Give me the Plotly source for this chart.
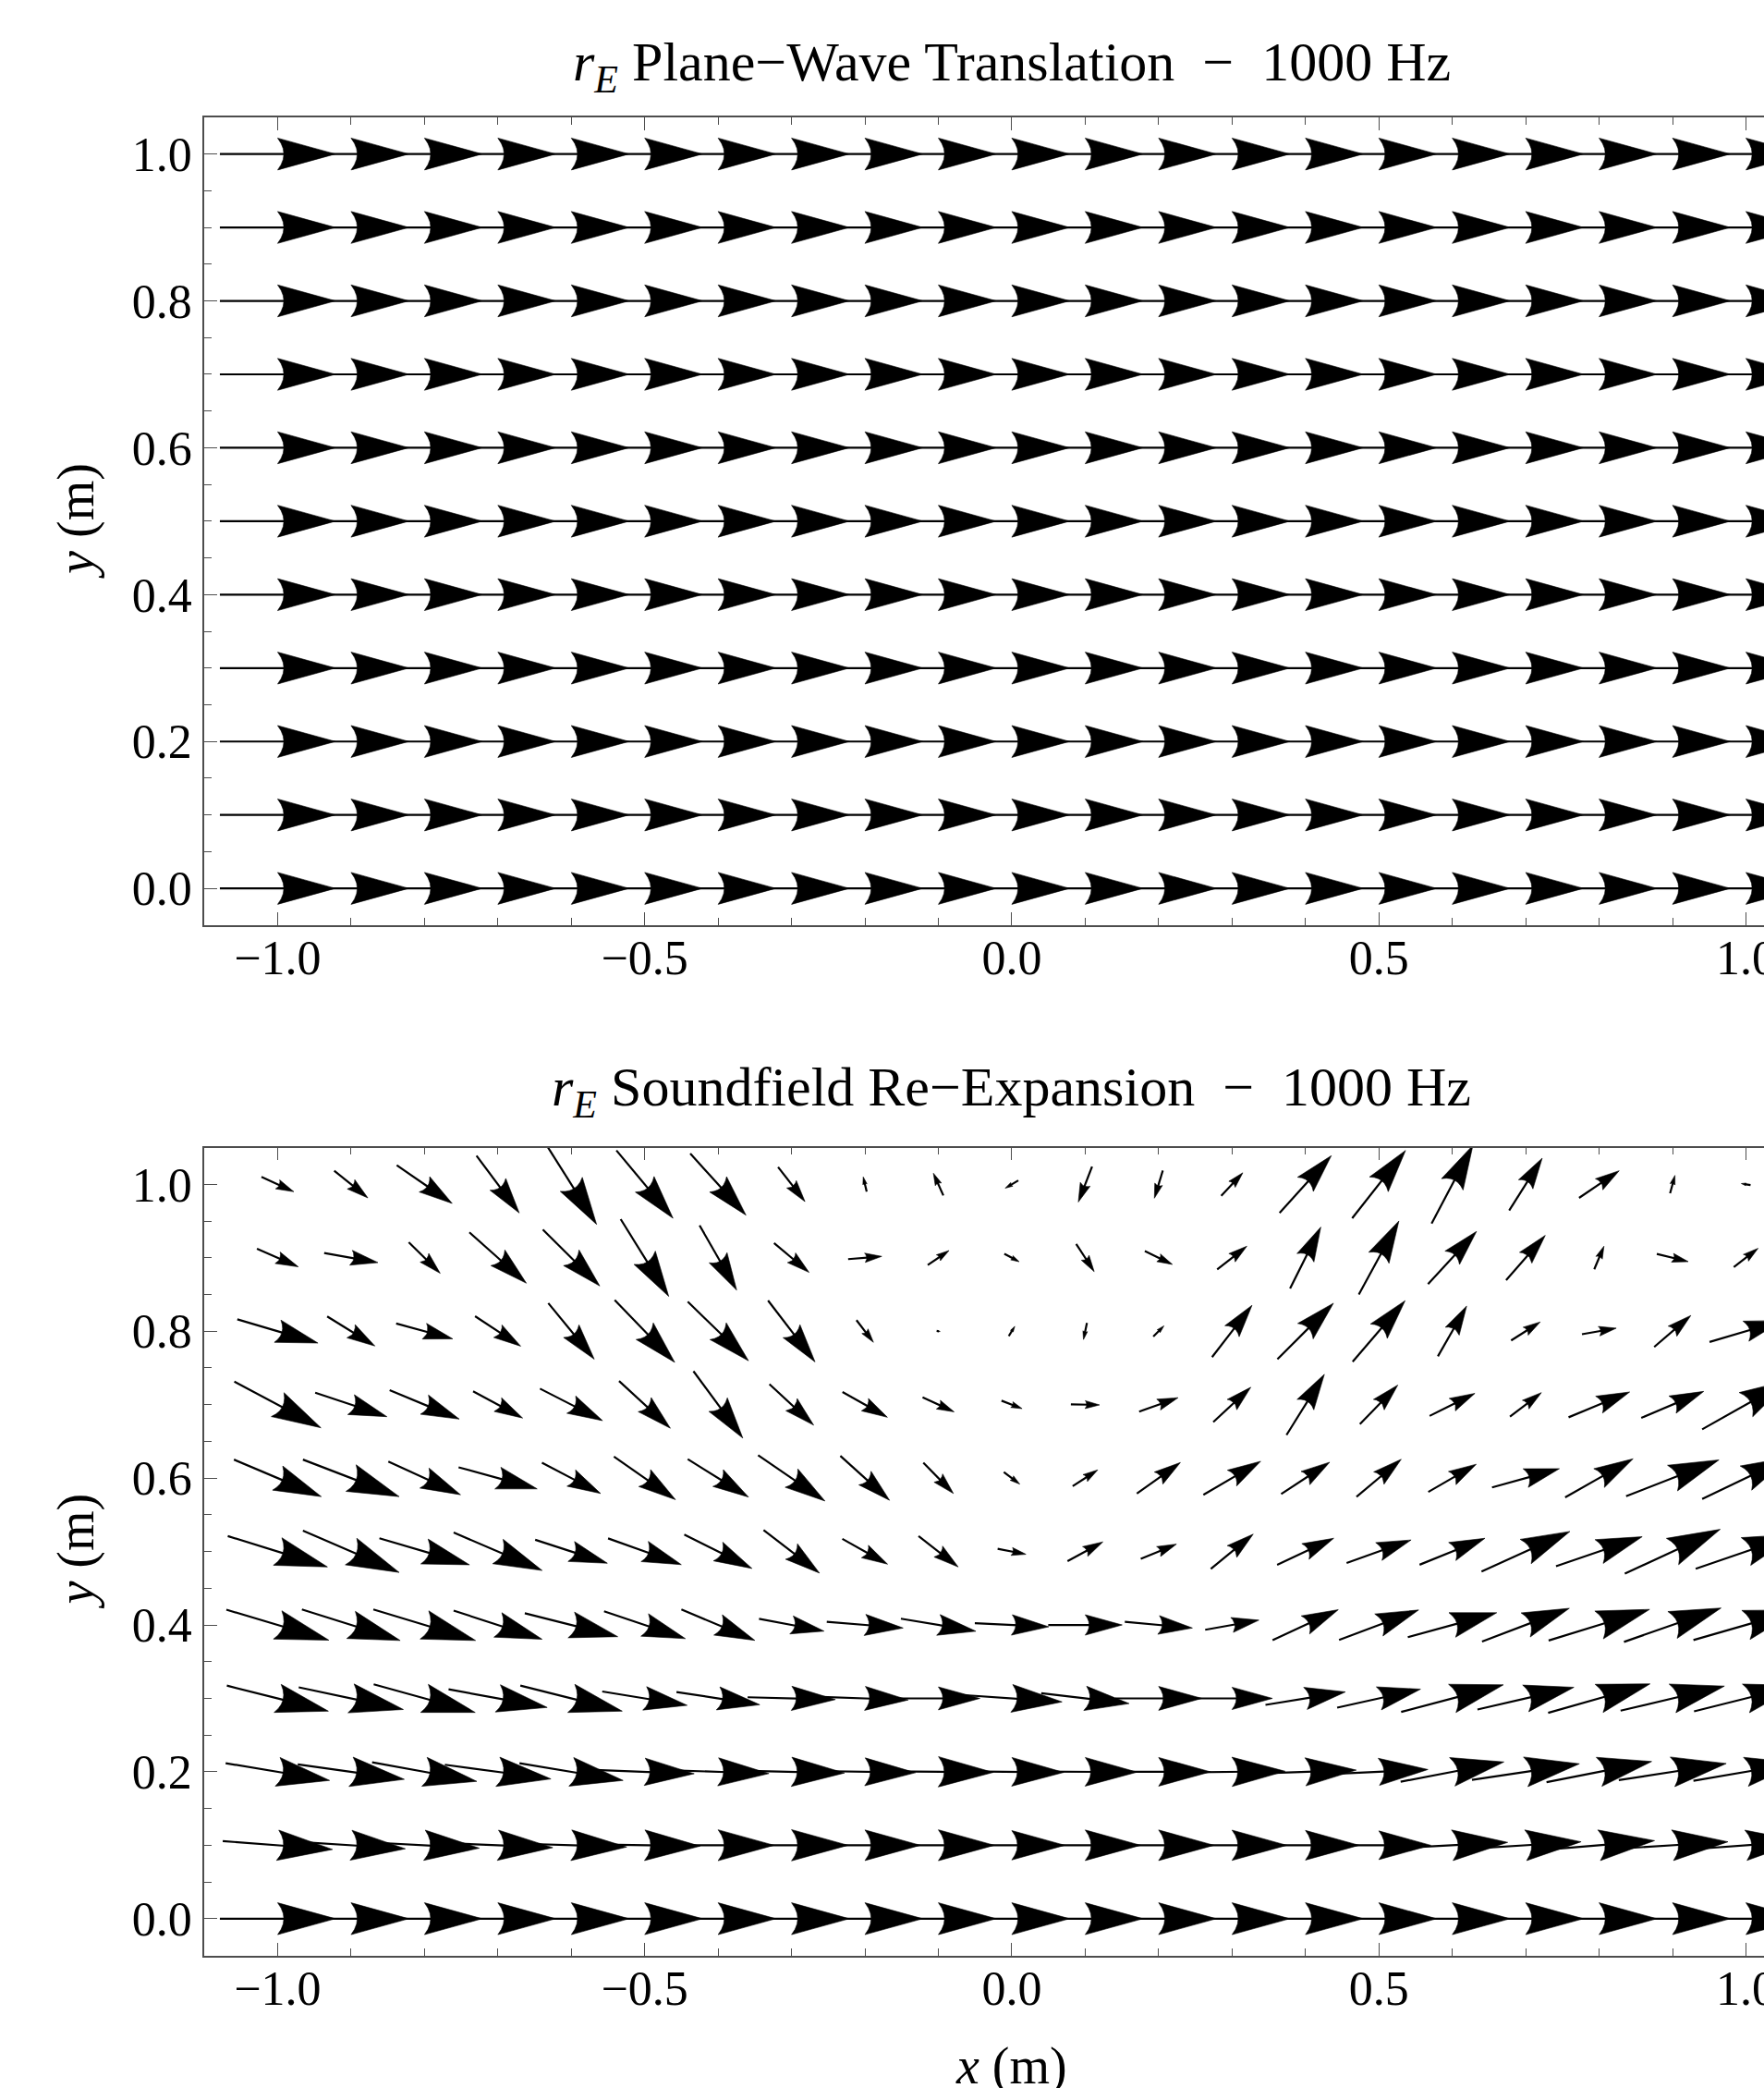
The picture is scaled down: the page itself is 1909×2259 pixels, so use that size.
import math
import plotly.graph_objects as go

# ---------------- data ----------------
x_vals = [-1.0, -0.9, -0.8, -0.7, -0.6, -0.5, -0.4, -0.3, -0.2, -0.1, 0.0,
          0.1, 0.2, 0.3, 0.4, 0.5, 0.6, 0.7, 0.8, 0.9, 1.0]
y_vals = [1.0, 0.9, 0.8, 0.7, 0.6, 0.5, 0.4, 0.3, 0.2, 0.1, 0.0]

# Top panel: plane-wave translation (uniform field)
U_top = [
    [1.0, 1.0, 1.0, 1.0, 1.0, 1.0, 1.0, 1.0, 1.0, 1.0, 1.0, 1.0, 1.0, 1.0, 1.0, 1.0, 1.0, 1.0, 1.0, 1.0, 1.0],
    [1.0, 1.0, 1.0, 1.0, 1.0, 1.0, 1.0, 1.0, 1.0, 1.0, 1.0, 1.0, 1.0, 1.0, 1.0, 1.0, 1.0, 1.0, 1.0, 1.0, 1.0],
    [1.0, 1.0, 1.0, 1.0, 1.0, 1.0, 1.0, 1.0, 1.0, 1.0, 1.0, 1.0, 1.0, 1.0, 1.0, 1.0, 1.0, 1.0, 1.0, 1.0, 1.0],
    [1.0, 1.0, 1.0, 1.0, 1.0, 1.0, 1.0, 1.0, 1.0, 1.0, 1.0, 1.0, 1.0, 1.0, 1.0, 1.0, 1.0, 1.0, 1.0, 1.0, 1.0],
    [1.0, 1.0, 1.0, 1.0, 1.0, 1.0, 1.0, 1.0, 1.0, 1.0, 1.0, 1.0, 1.0, 1.0, 1.0, 1.0, 1.0, 1.0, 1.0, 1.0, 1.0],
    [1.0, 1.0, 1.0, 1.0, 1.0, 1.0, 1.0, 1.0, 1.0, 1.0, 1.0, 1.0, 1.0, 1.0, 1.0, 1.0, 1.0, 1.0, 1.0, 1.0, 1.0],
    [1.0, 1.0, 1.0, 1.0, 1.0, 1.0, 1.0, 1.0, 1.0, 1.0, 1.0, 1.0, 1.0, 1.0, 1.0, 1.0, 1.0, 1.0, 1.0, 1.0, 1.0],
    [1.0, 1.0, 1.0, 1.0, 1.0, 1.0, 1.0, 1.0, 1.0, 1.0, 1.0, 1.0, 1.0, 1.0, 1.0, 1.0, 1.0, 1.0, 1.0, 1.0, 1.0],
    [1.0, 1.0, 1.0, 1.0, 1.0, 1.0, 1.0, 1.0, 1.0, 1.0, 1.0, 1.0, 1.0, 1.0, 1.0, 1.0, 1.0, 1.0, 1.0, 1.0, 1.0],
    [1.0, 1.0, 1.0, 1.0, 1.0, 1.0, 1.0, 1.0, 1.0, 1.0, 1.0, 1.0, 1.0, 1.0, 1.0, 1.0, 1.0, 1.0, 1.0, 1.0, 1.0],
    [1.0, 1.0, 1.0, 1.0, 1.0, 1.0, 1.0, 1.0, 1.0, 1.0, 1.0, 1.0, 1.0, 1.0, 1.0, 1.0, 1.0, 1.0, 1.0, 1.0, 1.0],
]
V_top = [
    [0.0, 0.0, 0.0, 0.0, 0.0, 0.0, 0.0, 0.0, 0.0, 0.0, 0.0, 0.0, 0.0, 0.0, 0.0, 0.0, 0.0, 0.0, 0.0, 0.0, 0.0],
    [0.0, 0.0, 0.0, 0.0, 0.0, 0.0, 0.0, 0.0, 0.0, 0.0, 0.0, 0.0, 0.0, 0.0, 0.0, 0.0, 0.0, 0.0, 0.0, 0.0, 0.0],
    [0.0, 0.0, 0.0, 0.0, 0.0, 0.0, 0.0, 0.0, 0.0, 0.0, 0.0, 0.0, 0.0, 0.0, 0.0, 0.0, 0.0, 0.0, 0.0, 0.0, 0.0],
    [0.0, 0.0, 0.0, 0.0, 0.0, 0.0, 0.0, 0.0, 0.0, 0.0, 0.0, 0.0, 0.0, 0.0, 0.0, 0.0, 0.0, 0.0, 0.0, 0.0, 0.0],
    [0.0, 0.0, 0.0, 0.0, 0.0, 0.0, 0.0, 0.0, 0.0, 0.0, 0.0, 0.0, 0.0, 0.0, 0.0, 0.0, 0.0, 0.0, 0.0, 0.0, 0.0],
    [0.0, 0.0, 0.0, 0.0, 0.0, 0.0, 0.0, 0.0, 0.0, 0.0, 0.0, 0.0, 0.0, 0.0, 0.0, 0.0, 0.0, 0.0, 0.0, 0.0, 0.0],
    [0.0, 0.0, 0.0, 0.0, 0.0, 0.0, 0.0, 0.0, 0.0, 0.0, 0.0, 0.0, 0.0, 0.0, 0.0, 0.0, 0.0, 0.0, 0.0, 0.0, 0.0],
    [0.0, 0.0, 0.0, 0.0, 0.0, 0.0, 0.0, 0.0, 0.0, 0.0, 0.0, 0.0, 0.0, 0.0, 0.0, 0.0, 0.0, 0.0, 0.0, 0.0, 0.0],
    [0.0, 0.0, 0.0, 0.0, 0.0, 0.0, 0.0, 0.0, 0.0, 0.0, 0.0, 0.0, 0.0, 0.0, 0.0, 0.0, 0.0, 0.0, 0.0, 0.0, 0.0],
    [0.0, 0.0, 0.0, 0.0, 0.0, 0.0, 0.0, 0.0, 0.0, 0.0, 0.0, 0.0, 0.0, 0.0, 0.0, 0.0, 0.0, 0.0, 0.0, 0.0, 0.0],
    [0.0, 0.0, 0.0, 0.0, 0.0, 0.0, 0.0, 0.0, 0.0, 0.0, 0.0, 0.0, 0.0, 0.0, 0.0, 0.0, 0.0, 0.0, 0.0, 0.0, 0.0],
]

# Bottom panel: soundfield re-expansion (rows: y = 1.0 ... 0.0, cols: x = -1.0 ... 1.0)
U_bot = [
    [0.280, 0.291, 0.480, 0.370, 0.438, 0.490, 0.482, 0.233, -0.030, -0.086, -0.113, -0.119, -0.073, 0.187, 0.448, 0.462, 0.358, 0.286, 0.347, 0.042, -0.080],
    [0.358, 0.465, 0.272, 0.493, 0.493, 0.416, 0.321, 0.303, 0.291, 0.184, 0.129, 0.156, 0.239, 0.257, 0.266, 0.347, 0.420, 0.339, 0.084, 0.272, 0.210],
    [0.698, 0.413, 0.490, 0.395, 0.398, 0.520, 0.526, 0.407, 0.147, 0.030, 0.052, -0.030, 0.092, 0.346, 0.485, 0.454, 0.249, 0.252, 0.297, 0.317, 0.630],
    [0.750, 0.621, 0.603, 0.429, 0.542, 0.444, 0.427, 0.383, 0.389, 0.273, 0.178, 0.248, 0.337, 0.325, 0.328, 0.328, 0.392, 0.272, 0.529, 0.541, 0.758],
    [0.756, 0.833, 0.625, 0.680, 0.508, 0.533, 0.526, 0.579, 0.426, 0.260, 0.138, 0.217, 0.377, 0.496, 0.420, 0.387, 0.415, 0.583, 0.588, 0.804, 0.758],
    [0.863, 0.833, 0.780, 0.766, 0.625, 0.634, 0.586, 0.484, 0.392, 0.343, 0.245, 0.306, 0.309, 0.367, 0.490, 0.558, 0.566, 0.765, 0.746, 0.826, 0.870],
    [0.888, 0.851, 0.885, 0.766, 0.805, 0.704, 0.636, 0.563, 0.661, 0.649, 0.640, 0.640, 0.585, 0.465, 0.569, 0.689, 0.770, 0.756, 0.874, 0.840, 0.909],
    [0.879, 0.906, 0.879, 0.854, 0.882, 0.735, 0.721, 0.760, 0.750, 0.720, 0.870, 0.760, 0.750, 0.700, 0.692, 0.722, 0.885, 0.835, 0.882, 0.899, 0.898],
    [0.900, 0.922, 0.906, 0.918, 0.897, 0.857, 0.880, 0.918, 0.875, 0.950, 0.900, 0.900, 0.900, 0.920, 0.880, 0.850, 0.894, 0.930, 0.910, 0.930, 0.909],
    [0.950, 0.940, 0.950, 0.950, 0.960, 0.960, 0.970, 0.980, 0.960, 0.970, 0.920, 0.960, 0.960, 0.950, 0.930, 0.900, 0.960, 0.960, 0.960, 0.960, 0.950],
    [1.000, 1.000, 1.000, 1.000, 1.000, 1.000, 1.000, 1.000, 1.000, 1.000, 1.000, 1.000, 1.000, 1.000, 1.000, 1.000, 1.000, 1.000, 1.000, 1.000, 1.000],
]
V_bot = [
    [-0.128, -0.235, -0.330, -0.496, -0.693, -0.587, -0.533, -0.299, 0.128, 0.192, -0.067, -0.307, -0.240, 0.200, 0.496, 0.587, 0.677, 0.453, 0.235, 0.155, 0.013],
    [-0.157, -0.083, -0.269, -0.440, -0.488, -0.669, -0.560, -0.253, 0.024, 0.125, -0.069, -0.240, -0.115, 0.200, 0.531, 0.637, 0.456, 0.387, 0.200, -0.067, 0.163],
    [-0.205, -0.256, -0.133, -0.259, -0.485, -0.539, -0.512, -0.531, -0.192, -0.005, 0.085, -0.144, 0.093, 0.448, 0.485, 0.528, 0.435, 0.160, 0.053, 0.272, 0.187],
    [-0.400, -0.208, -0.250, -0.232, -0.277, -0.408, -0.579, -0.355, -0.219, -0.125, -0.069, -0.005, 0.120, 0.301, 0.525, 0.339, 0.195, 0.208, 0.219, 0.229, 0.427],
    [-0.320, -0.320, -0.288, -0.187, -0.267, -0.373, -0.328, -0.397, -0.384, -0.267, -0.104, 0.141, 0.269, 0.291, 0.275, 0.325, 0.240, 0.163, 0.333, 0.315, 0.363],
    [-0.267, -0.362, -0.230, -0.328, -0.203, -0.227, -0.293, -0.373, -0.219, -0.267, -0.048, 0.166, 0.128, 0.301, 0.229, 0.200, 0.229, 0.347, 0.256, 0.384, 0.300],
    [-0.264, -0.269, -0.269, -0.248, -0.203, -0.237, -0.267, -0.107, -0.053, -0.109, -0.032, 0.000, -0.053, 0.083, 0.264, 0.259, 0.211, 0.288, 0.269, 0.293, 0.261],
    [-0.221, -0.192, -0.243, -0.157, -0.221, -0.120, -0.110, -0.020, -0.027, 0.000, -0.060, -0.090, 0.000, 0.000, 0.112, 0.160, 0.235, 0.192, 0.251, 0.213, 0.224],
    [-0.149, -0.130, -0.165, -0.123, -0.149, -0.032, -0.030, -0.020, -0.015, -0.010, -0.010, -0.005, 0.000, 0.010, 0.030, 0.040, 0.171, 0.139, 0.179, 0.144, 0.155],
    [-0.072, -0.060, -0.050, -0.040, -0.030, -0.015, 0.000, 0.000, 0.000, 0.000, 0.000, 0.000, 0.000, 0.000, 0.000, 0.000, 0.050, 0.060, 0.080, 0.060, 0.070],
    [0.000, 0.000, 0.000, 0.000, 0.000, 0.000, 0.000, 0.000, 0.000, 0.000, 0.000, 0.000, 0.000, 0.000, 0.000, 0.000, 0.000, 0.000, 0.000, 0.000, 0.000],
]

titles = ["<i>r</i><sub><i>E</i></sub> Plane\u2212Wave Translation\u2002\u2212\u20021000 Hz",
          "<i>r</i><sub><i>E</i></sub> Soundfield Re\u2212Expansion\u2002\u2212\u20021000 Hz"]
x_label = "<i>x</i> (m)"
y_label = "<i>y</i> (m)"

# ---------------- geometry / style ----------------
W, H = 1909, 2259
FONT = "Liberation Serif, Times New Roman, serif"
PX_PER_UNIT = 794.5
X0 = 221.0                        # left edge of plot areas (px)
X_MIN = -1.1
X_MAX = X_MIN + (W - X0) / PX_PER_UNIT
Y_MIN, Y_MAX = -0.05, 1.05
panel_tops = [126.9, 1241.6]       # px
panel_h = (Y_MAX - Y_MIN) * PX_PER_UNIT

ARROW_SCALE = 125.0 / PX_PER_UNIT  # data length of a unit-magnitude arrow
HEAD_FRAC = 0.5
HEAD_HALFW = 0.138
NOTCH = 0.054
FRAME = "#4d4d4d"


def arrow_paths(xs, ys, U, V):
    shaft_x, shaft_y, head_x, head_y = [], [], [], []
    for j, yc in enumerate(ys):
        for i, xc in enumerate(xs):
            u, v = U[j][i], V[j][i]
            m = math.hypot(u, v)
            if m < 1e-9:
                continue
            L = ARROW_SCALE * m
            dx, dy = u / m, v / m
            px, py = -dy, dx
            tx, ty = xc - dx * L / 2, yc - dy * L / 2
            ex, ey = xc + dx * L / 2, yc + dy * L / 2
            hl = HEAD_FRAC * L
            bx, by = ex - dx * hl, ey - dy * hl
            shaft_x += [tx, bx + dx * hl * 0.3, None]
            shaft_y += [ty, by + dy * hl * 0.3, None]
            hw = HEAD_HALFW * L
            nt = NOTCH * L
            pts = [(ex, ey)]
            for k in range(7):
                s = 1 - 2 * k / 6.0
                pts.append((bx + px * hw * s + dx * nt * (1 - s * s),
                            by + py * hw * s + dy * nt * (1 - s * s)))
            pts.append((ex, ey))
            head_x += [p[0] for p in pts] + [None]
            head_y += [p[1] for p in pts] + [None]
    return shaft_x, shaft_y, head_x, head_y


fig = go.Figure()
datasets = [(U_top, V_top), (U_bot, V_bot)]
for k, (U, V) in enumerate(datasets):
    xa = "x" if k == 0 else "x2"
    ya = "y" if k == 0 else "y2"
    sx, sy, hx, hy = arrow_paths(x_vals, y_vals, U, V)
    fig.add_trace(go.Scatter(x=sx, y=sy, mode="lines", xaxis=xa, yaxis=ya,
                             line=dict(color="black", width=2.2),
                             hoverinfo="skip", showlegend=False))
    fig.add_trace(go.Scatter(x=hx, y=hy, mode="lines", fill="toself", xaxis=xa, yaxis=ya,
                             fillcolor="black", line=dict(color="black", width=0.6),
                             hoverinfo="skip", showlegend=False))

axis_common = dict(showgrid=False, zeroline=False, showline=True, linecolor=FRAME,
                   linewidth=1.5, ticks="inside", tickcolor=FRAME, tickwidth=1.3,
                   automargin=False,
                   tickfont=dict(family=FONT, size=52, color="black"), tickformat=".1f")

layout = dict(width=W, height=H, margin=dict(l=0, r=0, t=0, b=0, pad=0),
              autosize=False,
              paper_bgcolor="white", plot_bgcolor="white", showlegend=False)

for k in range(2):
    top = panel_tops[k]
    dom_y = [1 - (top + panel_h) / H, 1 - top / H]
    xname = "xaxis" if k == 0 else "xaxis2"
    yname = "yaxis" if k == 0 else "yaxis2"
    layout[xname] = dict(axis_common, domain=[X0 / W, 1.0], range=[X_MIN, X_MAX],
                         anchor="y" if k == 0 else "y2", tick0=0, dtick=0.5, ticklen=14,
                         mirror="ticks", ticklabeloverflow="allow", ticklabelstandoff=-11,
                         minor=dict(dtick=0.1, tick0=0, ticklen=8, ticks="inside",
                                    tickcolor=FRAME, tickwidth=1.1))
    layout[yname] = dict(axis_common, domain=dom_y, range=[Y_MIN, Y_MAX],
                         anchor="x" if k == 0 else "x2", tick0=0, dtick=0.2, ticklen=14,
                         ticklabelstandoff=1,
                         minor=dict(dtick=0.05, tick0=0, ticklen=8, ticks="inside",
                                    tickcolor=FRAME, tickwidth=1.1))

fig.update_layout(**layout)

ann = []
title_mid_px = [72, 1180]
for k in range(2):
    ann.append(dict(text=titles[k], x=0.0, xref="x" if k == 0 else "x2",
                    y=1 - title_mid_px[k] / H, yref="paper", showarrow=False,
                    xanchor="center", yanchor="middle",
                    font=dict(family=FONT, size=60, color="black")))
    ann.append(dict(text=y_label, x=83 / W, xref="paper", y=0.5,
                    yref="y" if k == 0 else "y2", showarrow=False, textangle=-90,
                    xanchor="center", yanchor="middle",
                    font=dict(family=FONT, size=56, color="black")))
ann.append(dict(text=x_label, x=0.0, xref="x2", y=1 - 2235 / H, yref="paper",
                showarrow=False, xanchor="center", yanchor="middle",
                font=dict(family=FONT, size=56, color="black")))
fig.update_layout(annotations=ann)

fig.write_html("out.html",
               config={"displayModeBar": False, "responsive": False},
               post_script="document.body.style.margin='0px';"
                           "document.body.style.overflow='hidden';")
